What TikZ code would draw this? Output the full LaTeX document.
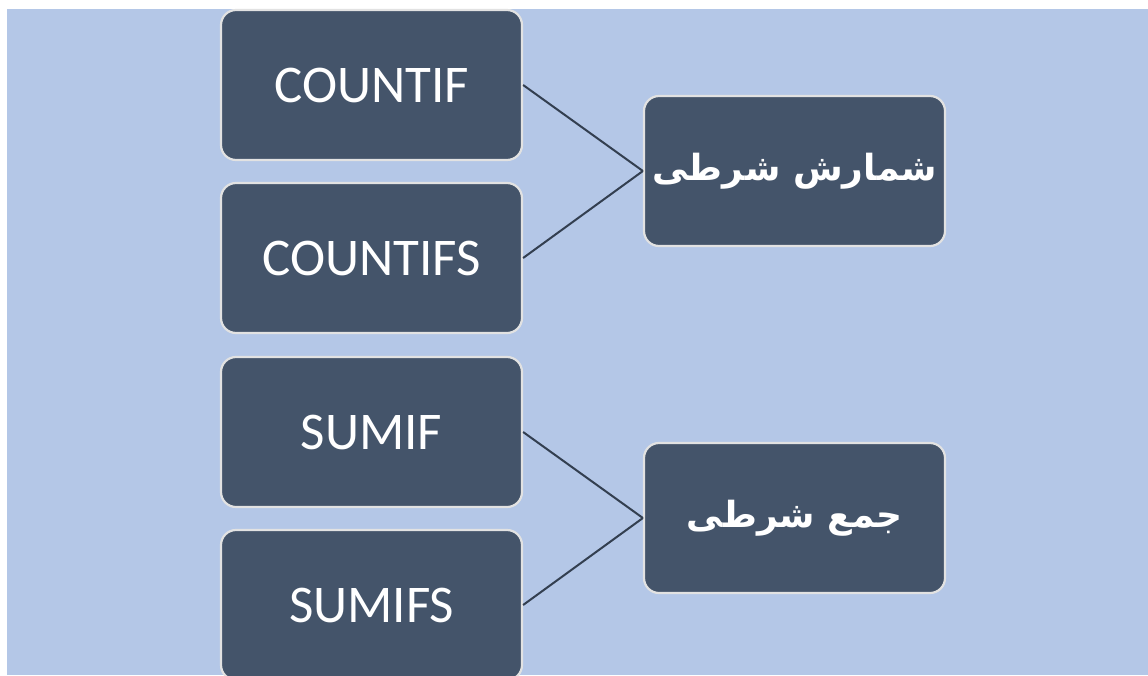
\documentclass[tikz,border=0pt]{standalone}
\usepackage{fontspec}
\setmainfont{Carlito}
\newfontfamily\arabicfont[Script=Arabic]{DejaVu Sans}
\TeXXeTstate=1
\definecolor{bgblue}{HTML}{B4C7E7}
\definecolor{boxfill}{HTML}{44546A}
\definecolor{boxline}{HTML}{E2E2E2}
\definecolor{conn}{HTML}{333F50}
\tikzset{
  fnbox/.style={draw=boxline, line width=2.2pt, fill=boxfill, rounded corners=15pt,
    minimum width=301pt, minimum height=150pt, inner sep=0pt, text=white,
    font=\fontsize{53}{58}\selectfont},
  catbox/.style={fnbox, font=\arabicfont\bfseries\fontsize{36}{44}\selectfont},
  link/.style={draw=conn, line width=2pt}
}
\begin{document}
\begin{tikzpicture}[x=1pt,y=-1pt]
\useasboundingbox (0,0) rectangle (1148,675);
\clip (0,0) rectangle (1148,675);
\fill[bgblue] (7,9) rectangle (1148,675);
\node[fnbox] (c1) at (371.5,85) {COUNTIF};
\node[fnbox] (c2) at (371.5,258) {COUNTIFS};
\node[fnbox] (s1) at (371.5,432) {SUMIF};
\node[fnbox] (s2) at (371.5,605) {SUMIFS};
\node[catbox] (k1) at (794.5,171) {\beginR شمارش شرطی\endR};
\node[catbox] (k2) at (794.5,518) {\beginR جمع شرطی\endR};
\draw[link] (c1.east) -- (k1.west);
\draw[link] (c2.east) -- (k1.west);
\draw[link] (s1.east) -- (k2.west);
\draw[link] (s2.east) -- (k2.west);
\end{tikzpicture}
\end{document}
